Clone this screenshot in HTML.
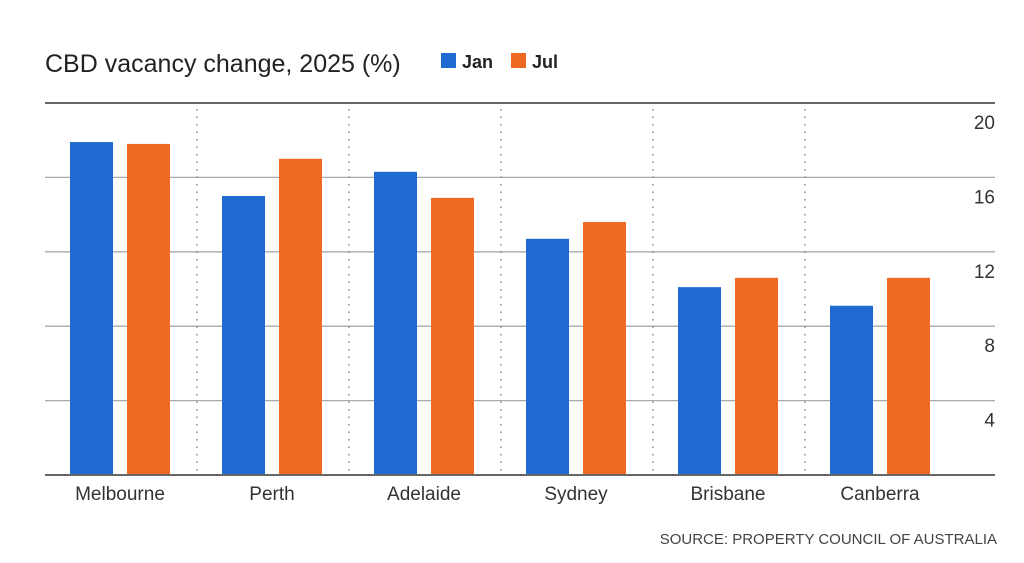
<!DOCTYPE html>
<html><head><meta charset="utf-8"><style>
body{margin:0;background:#fff;width:1024px;height:558px;overflow:hidden;font-family:"Liberation Sans",sans-serif;}
</style></head><body>
<svg width="1024" height="558" id="c" xmlns="http://www.w3.org/2000/svg">
<text x="45" y="72" font-size="25" fill="#222">CBD vacancy change, 2025 (%)</text>
<rect x="441" y="53" width="15" height="15" fill="#1f6bd1"/>
<text x="462" y="68" font-size="18" font-weight="bold" fill="#222">Jan</text>
<rect x="511" y="53" width="15" height="15" fill="#ee6a23"/>
<text x="532" y="68" font-size="18" font-weight="bold" fill="#222">Jul</text>
<text x="997" y="544" font-size="15" fill="#444" text-anchor="end">SOURCE: PROPERTY COUNCIL OF AUSTRALIA</text>
<g id="plot"></g>
</svg>
<script>
const categories=["Melbourne","Perth","Adelaide","Sydney","Brisbane","Canberra"];
const janValues=[17.9,15.0,16.3,12.7,10.1,9.1];
const julValues=[17.8,17.0,14.9,13.6,10.6,10.6];
const tickValues=[4,8,12,16,20];
const NS="http://www.w3.org/2000/svg";
const g=document.getElementById("plot");
const x0=45,catW=152,y0=475,yTop=103,yMax=20,right=995;
const y=v=>y0-(v/yMax)*(y0-yTop);
function mk(t,a){const e=document.createElementNS(NS,t);for(const k in a)e.setAttribute(k,a[k]);g.appendChild(e);return e;}
tickValues.forEach(v=>{
  const l=mk("line",{x1:x0,x2:right,y1:y(v),y2:y(v),stroke:v===yMax?"#666":"#aaa","stroke-width":v===yMax?2:1.3});
  
  
  const t=mk("text",{x:right,y:y(v)+26,"font-size":19,fill:"#333","text-anchor":"end"});
  t.textContent=v;
  
  
});
for(let i=1;i<categories.length;i++){
  const d=mk("line",{x1:x0+i*catW,x2:x0+i*catW,y1:yTop+6,y2:y0,stroke:"#777","stroke-width":1.3,"stroke-dasharray":"1.5 6"});
  
  
}
categories.forEach((c,i)=>{
  const cx=x0+i*catW;
  const b1=mk("rect",{x:cx+25,y:y(janValues[i]),width:43,height:y0-y(janValues[i]),fill:"#1f6bd1"});
  
  
  const b2=mk("rect",{x:cx+82,y:y(julValues[i]),width:43,height:y0-y(julValues[i]),fill:"#ee6a23"});
  
  
  const t=mk("text",{x:cx+75,y:500,"font-size":19,fill:"#333","text-anchor":"middle"});
  t.textContent=c;
  
  
});
const base=mk("line",{x1:x0,x2:right,y1:y0,y2:y0,stroke:"#666","stroke-width":2});


</script>
</body></html>
